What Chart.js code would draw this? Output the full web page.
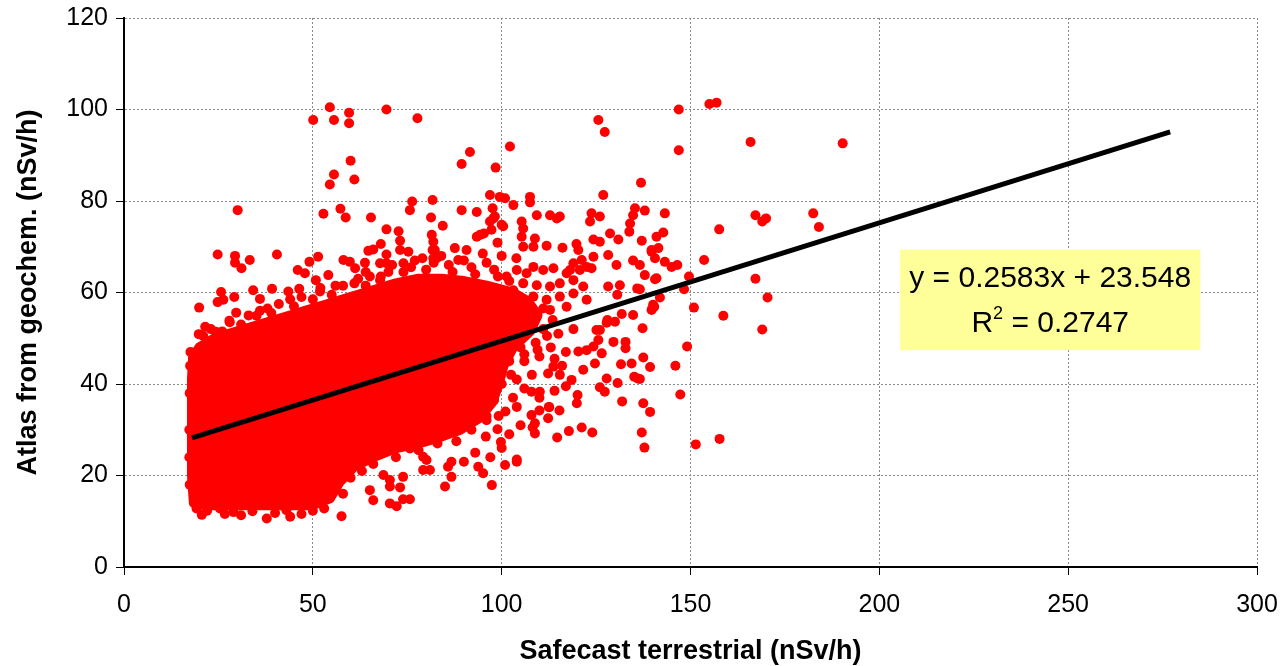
<!DOCTYPE html>
<html>
<head>
<meta charset="utf-8">
<title>Safecast vs Atlas</title>
<script src="https://cdn.jsdelivr.net/npm/chart.js@4.4.1/dist/chart.umd.min.js"></script>
<style>
  html, body { margin: 0; padding: 0; background: #fff; }
  #wrap { width: 1281px; height: 666px; }
</style>
</head>
<body>
<div id="wrap"><canvas id="chart" width="1281" height="666"></canvas></div>
<script>
// axis ticks
const xTicks = [0, 50, 100, 150, 200, 250, 300];
const yTicks = [0, 20, 40, 60, 80, 100, 120];

// outline of the solid red core of the cloud (closed, first == last)
const coreX = [18.5, 18, 18, 18, 18, 18.3, 20, 24, 30, 36, 42, 48, 54, 60, 66, 72, 78, 84, 90, 96,
  103, 107, 109.5, 107.5, 103, 100.5, 99, 97.5, 94, 89, 84, 78, 72, 66, 61, 57, 54.5, 50, 44, 38, 32, 26, 22, 18.5];
const coreY = [14, 20, 27, 34, 41, 46, 48, 50, 51.5, 53, 54.5, 56, 57.5, 59, 60.5, 62, 63, 63, 62.5, 61.5,
  60, 58, 55, 51.5, 48, 44, 39.5, 36, 32.5, 30, 28.5, 27, 26, 24, 22, 18.5, 15, 13.5, 13.5, 13.5, 13.5, 13.5, 13.5, 14];

// individually visible points (Safecast, Atlas)
const looseDots = [
  [54.5,100.5],[50.1,97.7],[55.6,97.7],[59.6,99.3],[59.6,97.0],[69.5,100.0],[77.7,98.1],
  [60.0,88.8],[55.6,85.8],[54.5,83.6],[61.0,84.7],
  [91.6,90.7],[89.4,88.1],[98.4,87.3],[102.2,91.9],
  [76.3,79.9],[81.7,80.2],[75.7,78.0],[52.8,77.2],[57.3,78.3],[58.7,76.4],[65.4,76.4],
  [89.4,78.0],[93.4,77.6],[96.9,81.3],[99.5,80.9],[100.9,80.6],
  [30.1,78.0],
  [24.8,68.3],[29.4,68.0],[29.4,66.5],[31.1,65.3],[33.3,67.1],[40.5,68.3],
  [25.7,60.1],[24.8,57.9],[26.3,58.4],[29.2,59.0],[34.2,60.5],[36.0,58.6],[39.2,60.8],
  [19.9,56.7],[29.7,55.6],[27.9,53.8],[21.5,52.5],[19.8,50.9],[24.3,51.4],[35.1,54.9],
  [43.5,60.2],[46.4,60.8],[46.0,64.9],[47.9,64.2],[49.1,66.7],[51.4,67.8],[50.8,62.7],[54.1,63.8],[51.9,60.2],
  [69.5,73.8],[72.7,73.4],[73.1,71.3],[75.3,68.9],
  [58.1,67.1],[59.8,66.7],[63.8,66.5],[64.7,69.1],[66.0,69.4],[68.0,70.6],[69.5,68.3],[69.5,66.4],
  [67.8,66.4],[61.2,65.3],[65.1,63.5],[67.8,62.7],[79.0,67.5],
  [136.9,84.0],[126.9,81.3],
  [107.5,80.9],[107.5,79.7],[103.1,79.1],[97.6,78.4],[98.2,76.6],[81.3,76.4],[84.4,74.6],
  [96.9,75.5],[97.3,73.7],[100.0,74.8],[109.3,76.9],[112.8,76.9],[114.6,76.2],[115.4,76.6],[105.3,75.5],[105.7,74.0],
  [123.8,77.3],[126.0,76.6],[123.4,75.5],[135.3,78.4],[137.9,77.9],[134.8,76.9],[134.0,75.1],[133.8,73.3],
  [128.7,72.9],[130.9,71.6],[137.1,71.3],[141.0,72.2],[124.3,71.6],[126.0,71.1],[119.8,70.6],[120.3,69.3],
  [111.9,70.2],[116.1,69.8],[108.8,71.8],[108.4,70.0],[105.3,72.2],[105.7,70.0],[81.5,72.6],[81.9,71.1],
  [87.6,69.7],[90.7,69.3],[93.4,72.2],[95.3,72.9],[98.9,70.9],[81.7,69.3],[82.8,67.5],[88.5,67.1],[103.9,67.5],
  [124.3,67.8],[128.2,68.2],[130.4,66.0],[134.8,67.0],[136.6,66.0],[137.9,63.8],[139.7,69.3],[140.6,67.5],[141.0,63.1],
  [128.2,61.3],[131.3,61.6],[130.6,59.5],[135.9,60.9],[140.1,57.3],[139.7,56.2],[131.8,55.3],[134.8,55.1],[137.3,52.2],
  [119.0,66.4],[121.2,67.1],[122.5,65.6],[118.1,64.9],[123.8,65.3],
  [146.9,100.0],[155.0,101.2],[156.9,101.5],[146.9,91.1],[165.9,92.9],[190.3,92.6],
  [143.2,77.3],[142.8,73.1],[167.2,76.9],[169.0,75.5],[170.0,76.2],[182.5,77.3],[184.0,74.3],[157.6,73.8],[153.6,67.1],
  [139.7,68.9],[141.5,69.7],[143.2,66.7],[145.0,65.6],[146.5,66.0],[140.6,62.9],[149.6,63.5],[148.3,60.7],[136.6,60.7],
  [141.9,58.9],[140.4,56.9],[167.2,63.0],[170.4,58.9],[150.9,56.7],[158.7,54.9],[169.0,51.9],[149.1,48.2],
  [137.5,45.8],[139.3,43.7],[146.0,44.0],[136.6,41.1],[147.3,37.7],[137.5,35.8],[139.3,33.9],[137.1,29.4],
  [137.8,26.1],[151.4,26.8],[157.7,28.0],
  [125.6,97.7],[127.3,95.1],
  [131.9,36.2],[130.7,40.2],[127.8,41.2],[126.0,39.3],[127.3,38.3],[124.0,29.4],[121.2,30.5],[117.8,29.7],[114.7,28.3],
  [119.9,35.8],[120.1,37.6],[112.5,35.0],[115.3,34.2],[107.9,38.3],[99.8,27.3],[104.0,23.5],
  [131.6,44.3],[134.4,44.5],[135.1,41.6],[136.0,41.2],[129.6,49.2],[132.8,49.2],[132.8,47.8],
  [128.0,54.0],[125.1,51.8],[125.6,49.6],
  [112.3,32.5],[112.6,34.9],[110.0,34.2],[107.9,33.2],[108.8,31.4],[108.8,29.2],[108.2,30.5],[104.0,23.0],[100.9,22.3],
  [98.9,30.1],[99.2,33.0],[96.0,32.1],[95.8,28.5],[93.8,21.9],[95.1,20.5],[97.4,17.9],[85.0,17.6],[86.7,19.7],
  [85.8,21.9],[86.7,23.0],
  [110.1,38.3],[112.3,42.3],[115.4,42.0],[118.5,40.9],[113.7,43.8],
  [120.3,47.1],[122.5,47.4],[124.3,48.2],[126.5,46.7],[121.6,43.1],[124.7,44.5],
  [126.0,51.8],[127.8,53.4],[130.0,53.6],
  [19.2,12.8],[20.6,11.4],[25.4,12.8],[26.7,11.6],[37.8,10.6],[57.6,11.1],
  [66.0,14.6],[70.4,13.9],[72.2,13.3],[73.9,14.8],[75.7,14.8],
  [65.1,16.8],[70.4,17.6],[73.1,17.4],[70.4,19.0],[68.7,20.1],[73.9,19.7],[79.2,21.2],[81.0,21.2],
  [79.2,24.1],[75.7,25.9],[77.0,27.0],[80.1,23.4],
  [97.8,76.2],[100.4,74.5],[94.3,72.6],[81.9,67.5],[82.3,69.3],[73.1,69.3],[74.0,66.4],
  [101.3,63.5],[104.0,64.9],[106.6,64.2],[108.4,65.6],[111.0,64.9],[113.7,65.3],[117.2,64.2],[120.7,64.9],
  [119.0,62.7],[115.4,62.0],[112.8,61.3],[109.3,61.6],[105.7,62.0],[103.1,60.5],[100.4,59.1],[104.8,57.6],
  [108.4,59.1],[111.9,58.4],[115.4,59.1],[119.0,59.8],[121.6,61.3],[122.5,58.4],[117.2,56.9],[112.8,56.2],[108.4,55.5],
  [103,52],[107,53],[111,52],[115,51],[119,52],[101,49],[105,48],[109,49],[113,48],[117,47],
  [102,45],[106,45],[110,46],[114,45.5],[104,41],[108,42],[116,44],[103,37],[106,39],[110,37],
  [114,38.5],[117,39.5],[101,34],[104,35],[105,31],[102,29],[100,26],[97,24],[93,25],[90,23],
  [38,56.5],[44,58.5],[56,61.5],[62,63],[70,64.5],[76,65.5],[86,66],[92,65.5],[98,65],
  [84,68],[90,67],[95,68.5],[100,68],[17.5,44],[17.3,30],[17.4,18],
  // fringe along the edge of the dense core
  [21,50.5],[23,52],[26,51.5],[28,53.5],[31,53],[33,55],[36,56],[39,55.5],[41,57.5],[45,57],
  [47,59],[50,58.5],[52,61],[55,59.5],[58,61.5],[61,62],[64,61.5],[64,64.5],[68,63.5],[71,66],
  [74,64.5],[77,67],[80,65],[82,66.5],[87,64.5],[93,64],[96,66.5],[99,63.5],[102,62.5],
  [22,12.3],[29,12],[31,11.3],[34,12.2],[40,11.8],[43,12.4],[47,11.6],[50,12.3],[53,12.8],[44,11.0],
  [58,16],[60,19.5],[63,21],[66,22.5],[72,24],[78,25.5],[83,27],[88,27.5],[92,30],[96,33],
  [98,36.5],[100,40],[17.3,24],[17.4,38],[17.6,47],
  [111,56.5],[113.5,54],[112,50.5],[109.5,47.5],[106,46.5],[102.5,42],[91,62],[88,60.5]
];

// linear trend line end points
const trendX = [18, 277];
const trendY = [28.2, 95.1];

const FONT = "'Liberation Sans', Arial, sans-serif";
Chart.defaults.font.family = FONT;
Chart.defaults.color = '#000';

// yellow box with the regression equation
const equationBox = {
  id: 'equationBox',
  afterDatasetsDraw(chart) {
    const {ctx, scales: {x, y}} = chart;
    const left = x.getPixelForValue(205.5), right = x.getPixelForValue(285);
    const top = y.getPixelForValue(69.4), bottom = y.getPixelForValue(47.4);
    const cx = (left + right) / 2;
    ctx.save();
    ctx.fillStyle = '#FFFF99';
    ctx.fillRect(left, top, right - left, bottom - top);
    ctx.fillStyle = '#000';
    ctx.textBaseline = 'alphabetic';
    ctx.font = '30px ' + FONT;
    ctx.textAlign = 'center';
    ctx.fillText('y = 0.2583x + 23.548', cx, top + 38);
    // R² line with a raised small 2
    ctx.textAlign = 'left';
    const wR = ctx.measureText('R').width;
    const rest = ' = 0.2747';
    const wRest = ctx.measureText(rest).width;
    ctx.font = '18px ' + FONT;
    const w2 = ctx.measureText('2').width;
    const start = cx - (wR + w2 + wRest) / 2;
    const base = top + 83;
    ctx.font = '30px ' + FONT;
    ctx.fillText('R', start, base);
    ctx.fillText(rest, start + wR + w2, base);
    ctx.font = '18px ' + FONT;
    ctx.fillText('2', start + wR, base - 13);
    ctx.restore();
  }
};

new Chart(document.getElementById('chart'), {
  type: 'scatter',
  data: {
    datasets: [
      {
        label: 'trend',
        type: 'line',
        data: trendX.map((v, i) => ({x: v, y: trendY[i]})),
        borderColor: '#000',
        borderWidth: 5,
        pointRadius: 0,
        fill: false
      },
      {
        label: 'points',
        data: looseDots.map(p => ({x: p[0], y: p[1]})),
        backgroundColor: '#FF0000',
        borderWidth: 0,
        pointRadius: 5
      },
      {
        label: 'core',
        type: 'line',
        data: coreX.map((v, i) => ({x: v, y: coreY[i]})),
        backgroundColor: '#FF0000',
        borderColor: '#FF0000',
        borderWidth: 10,
        borderJoinStyle: 'round',
        borderCapStyle: 'round',
        pointRadius: 0,
        tension: 0,
        fill: 'shape'
      }
    ]
  },
  options: {
    responsive: false,
    animation: false,
    events: [],
    layout: { padding: { top: 18, right: 24, left: 0, bottom: 0 } },
    plugins: { legend: { display: false }, tooltip: { enabled: false } },
    scales: {
      x: {
        type: 'linear',
        min: 0,
        max: 300,
        afterBuildTicks: s => { s.ticks = xTicks.map(v => ({value: v})); },
        afterFit: s => { s.height = 99; s.paddingLeft = 0; s.paddingRight = 0; },
        ticks: { font: { size: 25 }, color: '#000', padding: 15, maxRotation: 0 },
        grid: { color: '#8a8a8a', lineWidth: 1, tickLength: 8, tickColor: '#000', tickWidth: 1 },
        border: { color: '#000', width: 2, dash: [2, 2] },
        title: {
          display: true,
          text: 'Safecast terrestrial (nSv/h)',
          font: { size: 27, weight: 'bold' },
          color: '#000',
          padding: { top: 0, bottom: -2 }
        }
      },
      y: {
        type: 'linear',
        min: 0,
        max: 120,
        afterBuildTicks: s => { s.ticks = yTicks.map(v => ({value: v})); },
        afterFit: s => { s.width = 124; s.paddingTop = 0; s.paddingBottom = 0; },
        ticks: { font: { size: 25 }, color: '#000', padding: 8 },
        grid: { color: '#8a8a8a', lineWidth: 1, tickLength: 8, tickColor: '#000', tickWidth: 1 },
        border: { color: '#000', width: 2, dash: [2, 2] },
        title: {
          display: true,
          text: 'Atlas from geochem. (nSv/h)',
          font: { size: 27, weight: 'bold' },
          color: '#000',
          padding: { top: 12, bottom: 0 }
        }
      }
    }
  },
  plugins: [equationBox]
});
</script>
</body>
</html>
